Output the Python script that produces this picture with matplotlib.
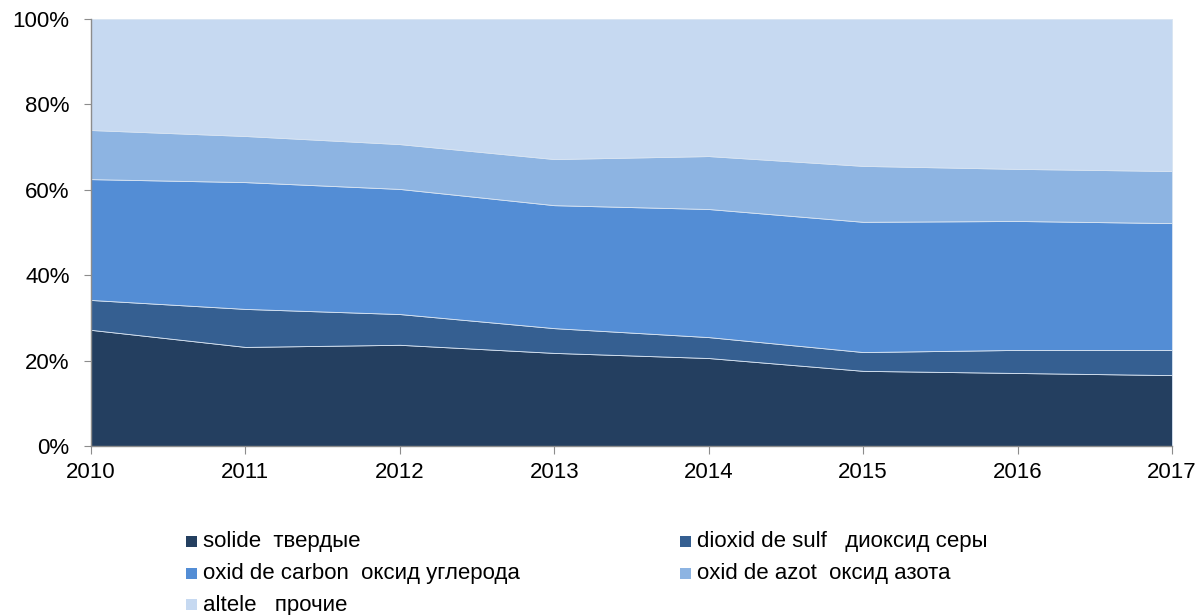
import matplotlib
matplotlib.use("Agg")
import matplotlib.pyplot as plt
from matplotlib.patches import Rectangle
import numpy as np

plt.rcParams['font.family'] = ['Liberation Sans', 'DejaVu Sans']

years = [2010, 2011, 2012, 2013, 2014, 2015, 2016, 2017]
solide = [27.2, 23.2, 23.7, 21.8, 20.6, 17.6, 17.1, 16.6]
dioxid = [7.0, 8.9, 7.2, 5.8, 4.9, 4.4, 5.4, 5.9]
carbon = [28.3, 29.7, 29.3, 28.8, 30.0, 30.5, 30.2, 29.7]
azot = [11.5, 10.8, 10.5, 10.8, 12.4, 13.1, 12.2, 12.2]
altele = [26.0, 27.4, 29.3, 32.8, 32.1, 34.4, 35.1, 35.6]

labels = ["solide  твердые", "dioxid de sulf   диоксид серы",
          "oxid de carbon  оксид углерода", "oxid de azot  оксид азота",
          "altele   прочие"]
colors = ["#243F60", "#355F91", "#538DD5", "#8DB4E2", "#C6D9F1"]

series = np.array([solide, dioxid, carbon, azot, altele], dtype=float)
series = series / series.sum(axis=0) * 100

fig = plt.figure(figsize=(12.04, 6.15), dpi=100)
ax = fig.add_axes([91/1204, 1-446/615, (1172-91)/1204, (446-19)/615])

ax.stackplot(years, series, colors=colors, edgecolor="#D8E4F2", linewidth=0.6)

ax.set_xlim(years[0], years[-1])
ax.set_ylim(0, 100)
ax.set_xticks(years)
ax.set_xticklabels([str(y) for y in years])
ax.set_yticks(np.arange(0, 101, 20))
ax.set_yticklabels([f"{v}%" for v in range(0, 101, 20)])
for s in ["top", "right"]:
    ax.spines[s].set_visible(False)
for s in ["left", "bottom"]:
    ax.spines[s].set_color("#8C8C8C")
    ax.spines[s].set_linewidth(1.0)
ax.tick_params(axis="both", direction="out", length=5.4, color="#8C8C8C",
               labelsize=16, labelcolor="black")
ax.tick_params(axis="x", pad=6)
ax.tick_params(axis="y", pad=10)

# legend (manual layout)
order = [(0, 186, 541), (1, 680, 541), (2, 186, 573), (3, 680, 573), (4, 186, 604)]
for idx, px, py in order:
    fig.patches.append(Rectangle((px/1204, 1-(py+5.5)/615), 11/1204, 11/615,
                                 transform=fig.transFigure, facecolor=colors[idx],
                                 edgecolor="none"))
    fig.text((px+17)/1204, 1-(py+1)/615, labels[idx], fontsize=16,
             va="center", ha="left", color="black")

fig.savefig("out.png", dpi=100)
